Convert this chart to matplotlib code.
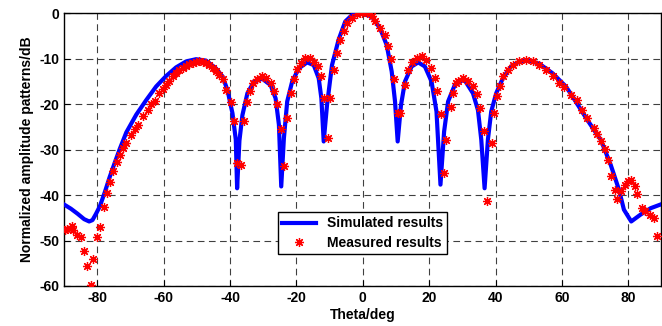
import matplotlib
matplotlib.use("Agg")
import matplotlib.pyplot as plt
import numpy as np

plt.rcParams['font.family'] = ['Liberation Sans', 'DejaVu Sans']
plt.rcParams['font.weight'] = 'bold'
plt.rcParams['axes.unicode_minus'] = False

# simulated pattern
sim_theta = [-90, -88, -86, -84, -82.5, -81.5, -80.5, -79.3, -77.8, -76.3, -74.8, -73.3,
             -71.3, -68.3, -65.3, -62.3, -59.3, -56.3, -53.3, -50.3, -47.3, -44.3, -42.3,
             -40.8, -39.3, -38.3, -37.9, -37.2, -36.3, -34.8, -32.8, -30.3, -27.8, -26.3,
             -25.3, -24.6, -23.8, -22.8, -21.3, -19.3, -16.8, -14.8, -13.3, -12.5, -11.8,
             -10.8, -9.3, -7.3, -5.3, -3.3, -0.3, 2.7, 5.2, 7.2, 8.7, 9.7, 10.5, 11.5,
             12.7, 14.7, 16.7, 18.7, 20.7, 22.2, 23.4, 24.5, 25.7, 27.7, 30.5, 33.2, 34.7,
             35.7, 36.7, 37.7, 38.7, 40.2, 42.2, 44.7, 47.2, 49.7, 53.2, 57.2, 61.2, 63.2,
             67.7, 71.7, 74.7, 77.2, 78.7, 80.9, 83.7, 86.7, 90]
sim_db = [-42.1, -43.0, -44.1, -45.3, -45.8, -45.5, -44.2, -42.5, -39.4, -36.0, -32.9, -29.9,
          -26.2, -22.3, -19.1, -16.1, -13.8, -11.9, -10.6, -10.1, -10.4, -12.1, -13.9,
          -16.9, -22.0, -27.8, -38.5, -28.0, -22.4, -17.6, -15.0, -14.4, -15.8, -18.7,
          -24.5, -38.1, -27.5, -19.4, -15.0, -12.1, -10.8, -11.4, -14.3, -18.7, -28.2,
          -20.2, -11.4, -5.8, -1.8, -0.4, 0.0, -0.7, -3.3, -7.0, -12.8, -19.4, -28.2, -20.2,
          -15.0, -11.7, -10.8, -11.7, -15.0, -21.6, -37.7, -26.0, -19.4, -15.8, -14.5, -17.6, -21.3,
          -27.8, -38.5, -27.8, -21.6, -17.6, -14.3, -11.7, -10.6, -10.3, -11.1, -13.2, -16.1, -18.3,
          -23.5, -27.8, -33.3, -38.8, -43.2, -45.8, -44.3, -42.9, -42.0]

# measured pattern
meas_theta = [-89.7, -89.1, -87.8, -87.3, -86.3, -85.1, -84.1, -83.1, -82.0, -81.3, -80.0,
              -79.3, -78.1, -77.2, -76.1, -75.3, -74.1, -73.1, -72.3, -71.3, -69.8, -68.8,
              -67.8, -66.3, -64.8, -63.8, -62.8, -61.3, -60.3, -59.3, -58.3, -57.3, -56.3,
              -55.3, -54.3, -53.3, -52.3, -51.3, -50.3, -49.3, -48.3, -47.3, -46.3, -45.3,
              -44.3, -43.3, -42.3, -41.3, -39.8, -38.8, -37.8, -36.8, -35.8, -34.8, -34.0,
              -33.0, -31.8, -30.3, -29.3, -27.8, -26.8, -26.0, -24.6, -23.8, -22.8, -21.8,
              -20.8, -19.8, -18.6, -17.3, -16.0, -14.8, -13.6, -12.6, -11.8, -10.6, -9.8,
              -8.8, -7.8, -7.0, -5.8, -4.8, -3.3, -1.8, -0.3, 1.2, 2.7, 3.7, 5.2, 6.7, 7.5,
              8.5, 9.5, 10.7, 11.3, 12.7, 13.7, 14.9, 16.2, 17.7, 18.9, 20.5, 21.7, 22.5,
              23.5, 24.5, 25.2, 26.5, 27.2, 28.2, 28.7, 30.2, 31.7, 33.2, 34.4, 35.4, 36.5,
              37.5, 38.8, 39.6, 40.4, 41.4, 42.4, 43.7, 45.2, 47.2, 49.2, 51.2, 53.2, 55.2,
              57.2, 59.2, 60.7, 62.7, 64.7, 66.2, 67.7, 69.7, 70.7, 71.7, 72.9, 73.9, 74.7,
              75.9, 76.7, 77.9, 78.9, 79.9, 80.9, 81.9, 82.7, 84.2, 85.2, 86.5, 87.7, 88.7]
meas_db = [-47.7, -47.5, -46.7, -47.6, -48.7, -49.2, -52.4, -55.7, -59.7, -54.1, -49.2,
           -47.0, -42.6, -39.6, -37.2, -34.6, -32.8, -31.1, -29.6, -28.6, -26.7, -25.5,
           -24.5, -22.7, -21.3, -20.0, -19.4, -17.6, -16.6, -15.8, -14.8, -13.9, -13.1,
           -12.5, -12.0, -11.6, -11.2, -10.9, -10.7, -10.6, -10.7, -11.0, -11.4, -12.1,
           -12.8, -13.6, -14.5, -16.9, -19.6, -23.7, -33.0, -33.3, -23.8, -19.6, -17.2,
           -15.4, -14.4, -13.9, -14.3, -15.4, -17.1, -20.0, -25.4, -33.7, -23.1, -17.6,
           -14.4, -12.2, -11.0, -9.9, -9.8, -10.8, -11.7, -13.9, -18.7, -27.5, -18.7,
           -12.5, -8.7, -5.9, -3.9, -2.2, -1.0, -0.2, 0.0, 0.0, -0.7, -1.8, -3.2, -4.8, -7.1,
           -10.0, -14.4, -22.0, -22.0, -15.8, -12.5, -10.8, -9.8, -9.5, -10.3, -12.1, -14.2, -17.2,
           -22.2, -35.2, -27.8, -20.7, -17.6, -15.4, -15.0, -14.3, -14.8, -16.0, -17.7, -20.9, -25.8,
           -41.3, -28.6, -22.0, -18.3, -16.0, -13.9, -12.5, -11.4, -10.6, -10.3, -10.6, -11.4, -12.5,
           -13.9, -15.4, -16.3, -18.0, -19.1, -21.3, -23.1, -25.2, -26.5, -28.0, -29.9, -32.2, -35.9,
           -38.8, -40.9, -39.0, -37.7, -36.8, -36.6, -38.0, -39.7, -42.9, -43.4, -44.3, -45.1, -48.9]

fig = plt.figure(figsize=(6.62, 3.26), dpi=100)
ax = fig.add_axes([0.0971, 0.1227, 0.902, 0.8365])

ax.plot(sim_theta, sim_db, color='#0000ff', lw=3, label='Simulated results', zorder=3)
ax.plot(meas_theta, meas_db, ls='none', marker=(8, 2, 0), ms=6.5, mew=0.9,
        color='#ff0000', label='Measured results', zorder=4)

ax.set_xlim(-90, 90)
ax.set_ylim(-60, 0)
ax.set_xticks(np.arange(-80, 81, 20))
ax.set_yticks(np.arange(-60, 1, 10))
ax.grid(True, color='k', ls=(0, (6, 4)), lw=0.8, alpha=0.75)
ax.tick_params(direction='in', labelsize=10, length=4)
for lab in ax.get_xticklabels() + ax.get_yticklabels():
    lab.set_fontweight('bold')
for s in ax.spines.values():
    s.set_linewidth(1)

ax.set_xlabel('Theta/deg', fontsize=10, fontweight='bold', labelpad=2)
ax.set_ylabel('Normalized amplitude patterns/dB', fontsize=10, fontweight='bold', labelpad=4)

leg = ax.legend(loc='lower left', bbox_to_anchor=(0.358, 0.117), fontsize=10,
                fancybox=False, edgecolor='k', framealpha=1, borderaxespad=0,
                handlelength=2.4, borderpad=0.3, labelspacing=0.4)
leg.get_frame().set_linewidth(1)
for t in leg.get_texts():
    t.set_fontweight('bold')

fig.savefig('out.png', dpi=100)
